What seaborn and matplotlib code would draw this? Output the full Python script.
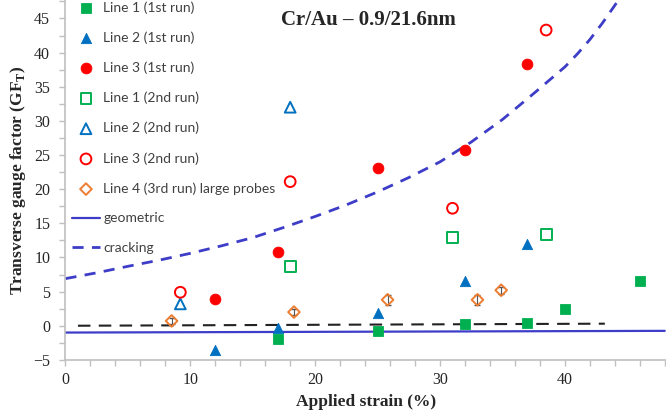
"""
Cr/Au transverse gauge factor vs applied strain
"""
import numpy as np
import pandas as pd
import matplotlib
matplotlib.use("Agg")
import matplotlib.pyplot as plt
import seaborn as sns

# dados
l1_run1_x = [17, 25, 32, 37, 40, 46]
l1_run1_y = [-1.9, -0.7, 0.3, 0.4, 2.4, 6.6]
l2_run1_x = [12, 17, 25, 32, 37]
l2_run1_y = [-3.5, -0.3, 1.8, 6.5, 11.9]
l3_run1_x = [12, 17, 25, 32, 37]
l3_run1_y = [3.9, 10.8, 23.1, 25.7, 38.4]
l1_run2_x = [18, 31, 38.5]
l1_run2_y = [8.7, 12.9, 13.4]
l2_run2_x = [9.2, 18]
l2_run2_y = [3.2, 32.0]
l3_run2_x = [9.2, 18, 31, 38.5]
l3_run2_y = [4.9, 21.1, 17.2, 43.3]
l4_run3_x = [8.5, 18.3, 25.8, 33.0, 34.9]
l4_run3_y = [0.7, 2.0, 3.8, 3.8, 5.2]
l4_run3_err = [0.5, 0.5, 0.7, 0.7, 0.5]

geo_x = [0, 48]
geo_y = [-1.0, -0.75]
crack_x = [0, 2.5, 5, 7.5, 10, 12.5, 15, 17.5, 20, 22.5, 25, 27.5, 30,
           32.5, 35, 37.5, 40, 41, 42, 43, 44.3]
crack_y = [6.9, 7.75, 8.7, 9.6, 10.6, 11.7, 12.9, 14.4, 16.0, 17.7, 19.6,
           21.7, 24.0, 26.9, 30.2, 34.0, 37.9, 39.8, 41.9, 44.3, 47.7]
zero_x = [1.0, 43.2]
zero_y = [0.0, 0.3]

sns.set_style("ticks")
serif = ["Liberation Serif", "DejaVu Serif"]

fig = plt.figure(figsize=(6.66, 4.17), dpi=100)
ax = fig.add_axes([0.0983, 0.137, 0.9017, 0.863])

green = "#00b050"
blue = "#0070c0"
red = "#ff0000"
orange = "#ed7d31"
purple = "#3d3dc8"

sns.scatterplot(x=l1_run1_x, y=l1_run1_y, marker="s", s=55, color=green,
                edgecolor=green, label="Line 1 (1st run)", ax=ax, zorder=5)
sns.scatterplot(x=l2_run1_x, y=l2_run1_y, marker="^", s=55, color=blue,
                edgecolor=blue, label="Line 2 (1st run)", ax=ax, zorder=5)
sns.scatterplot(x=l3_run1_x, y=l3_run1_y, marker="o", s=60, color=red,
                edgecolor=red, label="Line 3 (1st run)", ax=ax, zorder=5)
sns.scatterplot(x=l1_run2_x, y=l1_run2_y, marker="s", s=60, facecolor="none",
                edgecolor=green, linewidth=1.4, label="Line 1 (2nd run)", ax=ax, zorder=5)
sns.scatterplot(x=l2_run2_x, y=l2_run2_y, marker="^", s=60, facecolor="none",
                edgecolor=blue, linewidth=1.4, label="Line 2 (2nd run)", ax=ax, zorder=5)
sns.scatterplot(x=l3_run2_x, y=l3_run2_y, marker="o", s=60, facecolor="none",
                edgecolor=red, linewidth=1.4, label="Line 3 (2nd run)", ax=ax, zorder=5)

ax.errorbar(l4_run3_x, l4_run3_y, yerr=l4_run3_err, fmt="none", ecolor="#555555",
            elinewidth=0.8, capsize=2, zorder=4)
sns.scatterplot(x=l4_run3_x, y=l4_run3_y, marker="D", s=35, facecolor="none",
                edgecolor=orange, linewidth=1.4, label="Line 4 (3rd run) large probes",
                ax=ax, zorder=5)

sns.lineplot(x=geo_x, y=geo_y, color=purple, linewidth=1.6, label="geometric", ax=ax)
sns.lineplot(x=crack_x, y=crack_y, color=purple, linewidth=2.0, linestyle=(0, (4, 3)),
             label="cracking", ax=ax)
sns.lineplot(x=zero_x, y=zero_y, color="#222222", linewidth=1.5, linestyle=(0, (6, 4)),
             label="_nolegend_", ax=ax)

ax.set_xlim(0, 48.1)
ax.set_ylim(-5, 47.7)
ax.set_xticks([0, 10, 20, 30, 40])
ax.set_xticks(np.arange(0, 48.1, 2), minor=True)
ax.set_yticks(np.arange(-5, 46, 5))
ax.set_yticks(np.arange(-5, 47.6, 2.5), minor=True)

for s in ["top", "right"]:
    ax.spines[s].set_visible(False)
for s in ["left", "bottom"]:
    ax.spines[s].set_color("#bfbfbf")
    ax.spines[s].set_linewidth(1.2)

ax.tick_params(which="both", direction="out", length=4, width=1, color="#bfbfbf")
ax.tick_params(axis="y", which="major", pad=7)
ax.tick_params(axis="x", which="major", pad=5)
for lab in ax.get_xticklabels() + ax.get_yticklabels():
    lab.set_family(serif)
    lab.set_fontsize(11.5)

ax.set_xlabel("Applied strain (%)", family=serif, fontsize=12.5, fontweight="bold")
ax.set_ylabel(r"Transverse gauge factor (GF$_\mathregular{T}$)", family=serif,
              fontsize=12.5, fontweight="bold")

ax.text(24.3, 44.8, "Cr/Au – 0.9/21.6nm", family=serif, fontsize=15,
        fontweight="bold", ha="center", va="center")

leg = ax.legend(loc="upper left", bbox_to_anchor=(0.011, 0.997), frameon=False,
                prop={"family": "Lato", "size": 10}, labelspacing=1.27,
                handlelength=2.0, handletextpad=0.25, borderpad=0, borderaxespad=0)
for t in leg.get_texts():
    t.set_color("#404040")

fig.savefig("out.png", dpi=100)
